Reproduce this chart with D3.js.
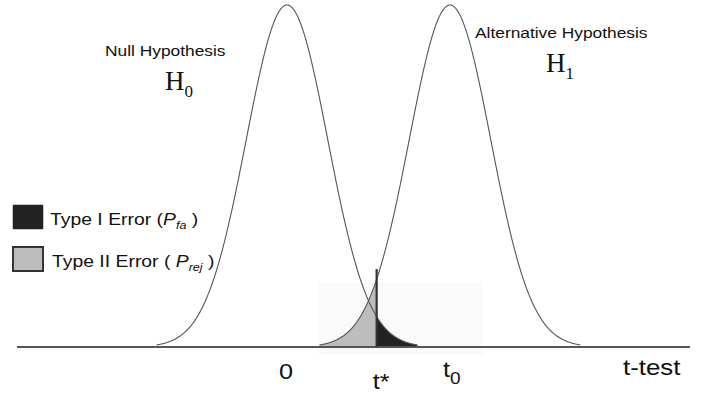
<!DOCTYPE html>
<html>
<head>
<meta charset="utf-8">
<script src="https://cdn.jsdelivr.net/npm/d3@7/dist/d3.min.js"></script>
<style>
  html, body { margin: 0; padding: 0; background: #fff; }
  svg { display: block; }
  .sans { font-family: "Liberation Sans", Arial, sans-serif; fill: #111; }
  .serif { font-family: "Liberation Serif", "Times New Roman", serif; fill: #111; }
</style>
</head>
<body>
<svg id="chart" width="701" height="395"></svg>
<script>
// Two hypotheses on the t axis (in units of the common spread)
const hypothesisNames = ["Null Hypothesis", "Alternative Hypothesis"];
const hypothesisSubscripts = ["0", "1"];
const means = [0, 4];
const spreads = [1, 1];
const threshold = 2.2;          // decision threshold t*
const tailExtent = 3.2;         // how far each bell is drawn from its mean

// Axis tick labels: [value, main text, subscript]
const tickValues = [means[0], threshold, means[1]];
const tickMain = ["0", "t*", "t"];
const tickSub = ["", "", "0"];
const axisTitle = "t-test";

// Legend entries
const legendNames = ["Type I Error (", "Type II Error ( "];
const legendSymbol = ["P", "P"];
const legendSubs = ["fa", "rej"];
const legendFills = ["#222222", "#bdbdbd"];

const svg = d3.select("#chart");
const x = d3.scaleLinear().domain([means[0], means[1]]).range([287, 450]);
const y = d3.scaleLinear().domain([0, 1]).range([347, 5]);

const density = (t, i) => Math.exp(-0.5 * Math.pow((t - means[i]) / spreads[i], 2));
const samples = (a, b) => d3.range(a, b + 1e-9, 0.01);

// faint backdrop behind the overlap region
svg.append("rect")
  .attr("x", 318).attr("y", 282).attr("width", 165).attr("height", 73)
  .attr("fill", "#fafafa");

// Type II error: H1 mass left of the threshold
const typeII = samples(means[1] - tailExtent * spreads[1], threshold);
svg.append("path")
  .attr("d", d3.area()
    .x(t => x(t)).y0(y(0)).y1(t => y(density(t, 1)))(typeII))
  .attr("fill", legendFills[1]);

// Type I error: H0 mass right of the threshold
const typeI = samples(threshold, means[0] + tailExtent * spreads[0]);
svg.append("path")
  .attr("d", d3.area()
    .x(t => x(t)).y0(y(0)).y1(t => y(density(t, 0)))(typeI))
  .attr("fill", legendFills[0]);

// baseline
svg.append("line")
  .attr("x1", 17).attr("x2", 690)
  .attr("y1", y(0)).attr("y2", y(0))
  .attr("stroke", "#555").attr("stroke-width", 2);

// bell curves
const line = d3.line().x(d => x(d[0])).y(d => y(d[1]));
means.forEach((m, i) => {
  const pts = samples(m - tailExtent * spreads[i], m + tailExtent * spreads[i])
    .map(t => [t, density(t, i)]);
  svg.append("path")
    .attr("d", line(pts))
    .attr("fill", "none")
    .attr("stroke", "#555")
    .attr("stroke-width", 1.1);
});

// threshold marker
svg.append("line")
  .attr("x1", x(threshold)).attr("x2", x(threshold))
  .attr("y1", y(0)).attr("y2", y(density(threshold, 1) + 0.03))
  .attr("stroke", "#333").attr("stroke-width", 2.2);

// helper for horizontally stretched labels
function stretched(px, py, sx, cls, size) {
  return svg.append("text")
    .attr("class", cls)
    .attr("transform", `translate(${px},${py}) scale(${sx},1)`)
    .style("font-size", size + "px");
}

// hypothesis titles
const titlePos = [[105, 56], [475, 38]];
hypothesisNames.forEach((name, i) => {
  stretched(titlePos[i][0], titlePos[i][1], 1.12, "sans", 15.5).text(name);
});

// H0 / H1 symbols
const symPos = [[165, 90], [546, 72]];
hypothesisSubscripts.forEach((s, i) => {
  const t = svg.append("text").attr("class", "serif")
    .attr("x", symPos[i][0]).attr("y", symPos[i][1])
    .style("font-size", "27px");
  t.append("tspan").text("H");
  t.append("tspan").attr("dy", 7).style("font-size", "17px").text(s);
});

// tick labels
const tickDy = [379, 389, 377];
const tickDx = [-8, -4, -7];
tickValues.forEach((v, i) => {
  const t = stretched(x(v) + tickDx[i], tickDy[i], 1.12, "sans", 22.5);
  t.append("tspan").text(tickMain[i]);
  if (tickSub[i]) t.append("tspan").attr("dy", 7).style("font-size", "17px").text(tickSub[i]);
});

stretched(623, 375, 1.2, "sans", 21.5).text(axisTitle);

// legend
const legendY = [205, 247];
const legendTextY = [225, 267];
const legendTextX = [50, 52];
legendNames.forEach((name, i) => {
  svg.append("rect")
    .attr("x", 13).attr("y", legendY[i]).attr("width", 30).attr("height", 24)
    .attr("fill", legendFills[i])
    .attr("stroke", i === 0 ? "#222" : "#333")
    .attr("stroke-width", i === 0 ? 0.5 : 2);
  const t = stretched(legendTextX[i], legendTextY[i], 1.14, "sans", 17);
  t.append("tspan").text(name);
  t.append("tspan").style("font-style", "italic").text(legendSymbol[i]);
  t.append("tspan").attr("dy", 4).style("font-style", "italic").style("font-size", "11px").text(legendSubs[i]);
  t.append("tspan").attr("dy", -4).text(" )");
});
</script>
</body>
</html>
